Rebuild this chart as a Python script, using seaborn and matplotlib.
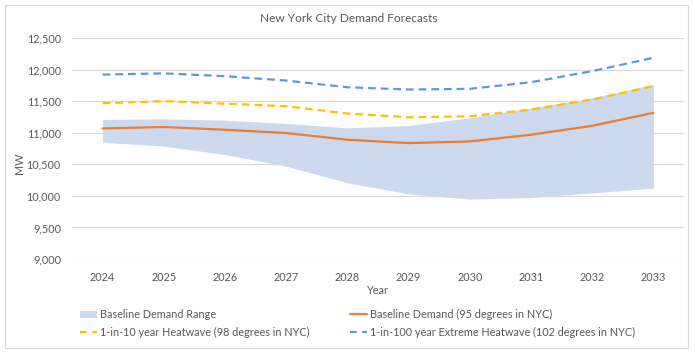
import matplotlib
matplotlib.use("Agg")
import matplotlib.pyplot as plt
import seaborn as sns
import pandas as pd
from matplotlib.patches import Rectangle, Patch
from matplotlib.lines import Line2D

years = [2024, 2025, 2026, 2027, 2028, 2029, 2030, 2031, 2032, 2033]
baseline = [11068, 11090, 11047, 10995, 10889, 10836, 10862, 10968, 11110, 11315]
heat_10 = [11467, 11500, 11460, 11420, 11304, 11245, 11260, 11367, 11525, 11737]
heat_100 = [11920, 11940, 11895, 11826, 11720, 11684, 11695, 11800, 11975, 12187]
range_low = [10850, 10787, 10655, 10470, 10207, 10032, 9950, 9973, 10047, 10122]
range_high = [11210, 11220, 11198, 11146, 11077, 11114, 11236, 11394, 11552, 11763]
yticks = [9000, 9500, 10000, 10500, 11000, 11500, 12000, 12500]

lbl_range = "Baseline Demand Range"
lbl_base = "Baseline Demand (95 degrees in NYC)"
lbl_10 = "1-in-10 year Heatwave (98 degrees in NYC)"
lbl_100 = "1-in-100 year Extreme Heatwave (102 degrees in NYC)"

sns.set_theme(style="white")
plt.rcParams["font.family"] = ["Lato", "DejaVu Sans"]

TXT = "#595959"
C_BAND = "#CDD9EE"
C_OR = "#ED7D31"
C_YE = "#FFC000"
C_BL = "#5B9BD5"
FS = 7.8

W, H = 695, 353
fig = plt.figure(figsize=(W / 100, H / 100), dpi=100)
fig.patches.append(Rectangle((5 / W, 5 / H), 683 / W, 343 / H, transform=fig.transFigure,
                             fill=False, edgecolor="#D9D9D9", linewidth=0.8))
ax = fig.add_axes([72 / W, 1 - 259 / H, (684 - 72) / W, (259 - 38) / H])

df = pd.DataFrame({"Year": years, "Baseline": baseline, "H10": heat_10, "H100": heat_100})

ax.fill_between(years, range_low, range_high, color=C_BAND, linewidth=0, zorder=1)
sns.lineplot(data=df, x="Year", y="Baseline", ax=ax, color=C_OR, linewidth=1.6, zorder=3)
sns.lineplot(data=df, x="Year", y="H10", ax=ax, color=C_YE, linewidth=1.6, zorder=3)
sns.lineplot(data=df, x="Year", y="H100", ax=ax, color=C_BL, linewidth=1.6, zorder=3)
ax.lines[1].set_dashes((3.5, 2.2))
ax.lines[2].set_dashes((3.5, 2.2))

ax.set_xlim(2023.5, 2033.5)
ax.set_ylim(9000, 12500)
ax.set_yticks(yticks)
ax.set_yticklabels([f"{v:,}" for v in yticks])
ax.set_xticks(years)
ax.set_xticklabels([str(y) for y in years])
ax.tick_params(axis="y", length=0, pad=8, labelsize=FS, labelcolor=TXT)
ax.tick_params(axis="x", length=0, pad=9.5, labelsize=FS, labelcolor=TXT)
ax.grid(axis="y", color="#D9D9D9", linewidth=0.8, zorder=0)
ax.set_axisbelow(True)
for s in ax.spines.values():
    s.set_visible(False)

ax.set_xlabel("Year", fontsize=FS, color=TXT)
ax.xaxis.set_label_coords(0.5, -(291 - 259) / (259 - 38), transform=ax.transAxes)
ax.xaxis.label.set_va("center")
ax.set_ylabel("MW", fontsize=FS, color=TXT)
ax.yaxis.set_label_coords(-(72 - 20) / (684 - 72), (259 - 163) / (259 - 38))
ax.yaxis.label.set_va("center")

fig.text(348.5 / W, 1 - 18 / H, "New York City Demand Forecasts", ha="center", va="center",
         fontsize=8.6, color=TXT)

h_range = Patch(facecolor=C_BAND, edgecolor="none", label=lbl_range)
h_base = Line2D([], [], color=C_OR, linewidth=1.6, label=lbl_base)
h_10 = Line2D([], [], color=C_YE, linewidth=1.6, linestyle=(0, (3.0, 2.5)), label=lbl_10)
h_100 = Line2D([], [], color=C_BL, linewidth=1.6, linestyle=(0, (3.0, 2.5)), label=lbl_100)

common = dict(frameon=False, fontsize=FS, labelcolor=TXT, handlelength=1.55,
              handletextpad=0.25, labelspacing=0.6, borderpad=0, borderaxespad=0,
              handleheight=0.6)
leg1 = fig.legend(handles=[h_range, h_10], loc="upper left",
                  bbox_to_anchor=(80 / W, 1 - 309 / H), **common)
leg2 = fig.legend(handles=[h_base, h_100], loc="upper left",
                  bbox_to_anchor=(350 / W, 1 - 309 / H), **common)

fig.savefig("out.png", dpi=100, facecolor="white")
